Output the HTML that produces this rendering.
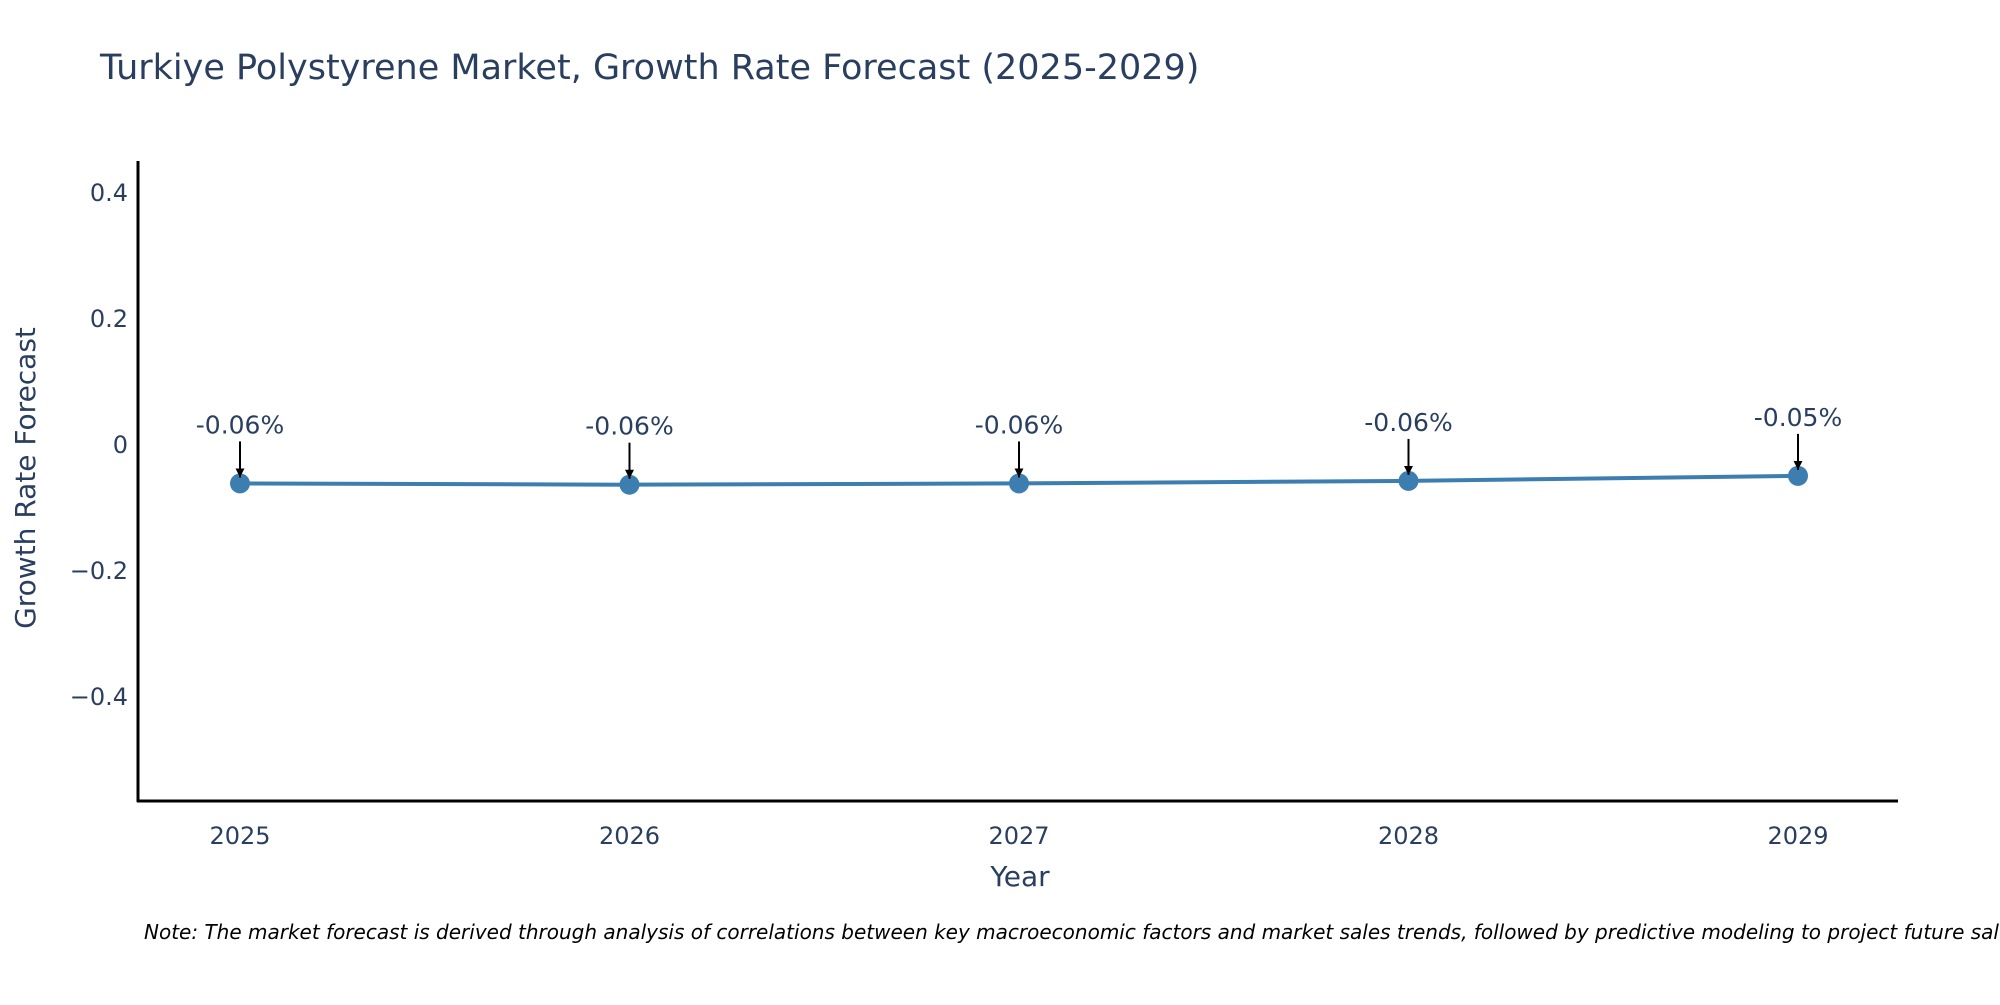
<!DOCTYPE html>
<html><head><meta charset="utf-8"><style>
body{margin:0;background:#fff;font-family:"Liberation Sans","DejaVu Sans",sans-serif;overflow:hidden}
svg text{font-family:"DejaVu Sans","Liberation Sans",sans-serif}
</style></head><body>
<svg id="chart" width="2000" height="1000" viewBox="0 0 2000 1000">
<text x="100" y="79" font-size="35" fill="#2a3f5f">Turkiye Polystyrene Market, Growth Rate Forecast (2025-2029)</text>
<g id="yticks"></g><g id="xticks"></g>
<line x1="138" y1="161" x2="138" y2="802" stroke="#000" stroke-width="3"/>
<line x1="137" y1="801" x2="1898" y2="801" stroke="#000" stroke-width="3"/>
<g id="series"></g><g id="annots"></g>
<text x="1020" y="886" text-anchor="middle" font-size="28" fill="#2a3f5f">Year</text>
<text transform="translate(35,478) rotate(-90)" text-anchor="middle" font-size="28" fill="#2a3f5f">Growth Rate Forecast</text>
<text x="144" y="939" font-size="20" font-style="italic" fill="#000">Note: The market forecast is derived through analysis of correlations between key macroeconomic factors and market sales trends, followed by predictive modeling to project future sales.</text>
<defs><marker id="ah" viewBox="0 0 10 10" refX="10" refY="5" markerWidth="4.5" markerHeight="4.5" orient="auto" markerUnits="strokeWidth"><path d="M0,0 L10,5 L0,10 z" fill="#000"/></marker></defs>
</svg>
<script>
const years=[2025,2026,2027,2028,2029];
const values=[-0.061,-0.063,-0.061,-0.057,-0.049];
const labels=["-0.06%","-0.06%","-0.06%","-0.06%","-0.05%"];
const yTicks=[0.4,0.2,0,-0.2,-0.4];
const yTickLabels=["0.4","0.2","0","\u22120.2","\u22120.4"];
const NS="http://www.w3.org/2000/svg";
const X=i=>240+(1798-240)*(years[i]-years[0])/(years[years.length-1]-years[0]);
const Y=v=>445-v*630;
function mk(t,a,p){const e=document.createElementNS(NS,t);for(const k in a)e.setAttribute(k,a[k]);p.appendChild(e);return e;}
const yt=document.getElementById('yticks');
yTicks.forEach((v,i)=>{const t=mk('text',{x:128,y:Y(v)+8,'text-anchor':'end','font-size':'24',fill:'#2a3f5f'},yt);


t.textContent=yTickLabels[i];});
const xt=document.getElementById('xticks');
years.forEach((y,i)=>{const t=mk('text',{x:X(i),y:844,'text-anchor':'middle','font-size':'24',fill:'#2a3f5f'},xt);


t.textContent=y;});
const s=document.getElementById('series');
const line=mk('polyline',{points:values.map((v,i)=>X(i)+','+Y(v)).join(' '),fill:'none',stroke:'#3d7eb0','stroke-width':'4'},s);


values.forEach((v,i)=>{const c=mk('circle',{cx:X(i),cy:Y(v),r:10,fill:'#3d7eb0'},s);

});
const an=document.getElementById('annots');
values.forEach((v,i)=>{const py=Y(v);
const l=mk('line',{x1:X(i),y1:py-42,x2:X(i),y2:py-6,stroke:'#000','stroke-width':'2','marker-end':'url(#ah)'},an);


const t=mk('text',{x:X(i),y:py-50,'text-anchor':'middle','font-size':'25',fill:'#2a3f5f'},an);


t.textContent=labels[i];});
</script>
</body></html>
